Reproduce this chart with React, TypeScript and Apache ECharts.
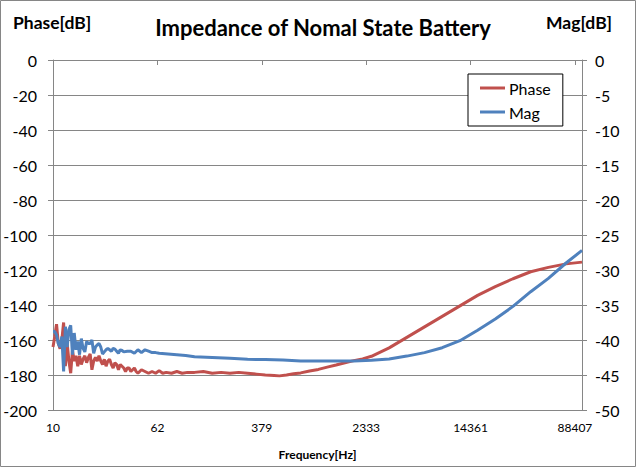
import React, { useEffect, useRef } from "react";
import * as echarts from "echarts";

// x positions are sample indices of the log-spaced frequency sweep (0..299)
const tickIndex = [0, 59, 118, 177, 236, 295];
const tickLabels = ["10", "62", "379", "2333", "14361", "88407"];
const sampleCount = 300;

const phase: [number, number][] = [
  [0, -164], [1, -158], [2, -151], [3, -162], [4, -165], [5, -160], [6, -150], [7, -175],
  [8, -162], [9, -172], [10, -179], [11, -166], [12, -172], [13, -169], [14, -175], [15, -169],
  [16, -174], [17, -171], [18, -169], [19, -173], [20, -170], [21, -168], [22, -177], [23, -172],
  [24, -170], [25, -172], [26, -169], [27, -172], [28, -174], [29, -171], [30, -175], [31, -172],
  [32, -171], [33, -174], [34, -176], [35, -173], [36, -174], [37, -177], [38, -174], [39, -175],
  [40, -176], [41, -178], [42, -176], [43, -176], [44, -178], [45, -177], [46, -176], [47, -178],
  [48, -179], [49, -178], [50, -177], [52, -178], [54, -179], [56, -178], [58, -179], [60, -177.5],
  [62, -179], [64, -178.5], [67, -179], [70, -178], [73, -179], [76, -178.5], [80, -178.5],
  [85, -178], [90, -179], [95, -178.5], [100, -179], [105, -178.5], [110, -179], [115, -179.5],
  [120, -180], [125, -180.3], [128, -180.5], [132, -180], [136, -179.3], [140, -178.8],
  [145, -177.7], [150, -176.8], [155, -175.5], [160, -174.3], [165, -173], [170, -171.8],
  [175, -170.8], [180, -169.3], [190, -164.5], [200, -158.5], [210, -152.5], [220, -146.5],
  [230, -140.5], [240, -134.5], [250, -129.5], [260, -125], [270, -121], [280, -118.5],
  [290, -116.5], [299, -115.5],
];

const mag: [number, number][] = [
  [0, -38.8], [1, -38.8], [2, -39.3], [3, -40.5], [4, -41], [5, -39.5], [6, -44.5], [7, -38.1],
  [8, -41], [9, -38.5], [10, -37.9], [11, -42.1], [12, -39], [13, -41.4], [14, -40.2], [15, -42.1],
  [16, -39.8], [17, -41.2], [18, -41.7], [19, -40.2], [20, -40.5], [21, -40.5], [22, -40],
  [23, -41.9], [24, -41], [25, -40.7], [26, -40.5], [27, -41], [28, -42], [29, -41.7], [30, -41.4],
  [31, -41.2], [32, -41.4], [33, -41.6], [34, -41.2], [35, -41.3], [36, -41.6], [37, -41.9],
  [38, -41.4], [39, -41.5], [40, -41.7], [42, -41.6], [44, -41.6], [46, -41.9], [48, -41.4],
  [50, -41.8], [52, -41.4], [54, -41.6], [56, -41.8], [58, -41.8], [60, -41.9], [65, -42],
  [70, -42.1], [75, -42.2], [80, -42.4], [90, -42.5], [100, -42.6], [110, -42.75], [120, -42.8],
  [130, -42.85], [140, -43], [150, -43], [160, -43], [170, -43], [180, -42.9], [190, -42.7],
  [200, -42.3], [210, -41.8], [220, -41.1], [230, -40.1], [240, -38.6], [250, -37],
  [260, -35.2], [270, -33.1], [280, -31.2], [290, -29], [299, -27.2],
];

const FONT = 'Lato, "Open Sans", sans-serif';
const GRID_GRAY = "#868686";

export default function App() {
  const ref = useRef<HTMLDivElement>(null);
  useEffect(() => {
    document.body.style.margin = "0";
    if (!ref.current) return;
    const chart = echarts.init(ref.current, undefined, { renderer: "svg" });
    chart.setOption({
      animation: false,
      backgroundColor: "#fff",
      textStyle: { fontFamily: FONT },
      title: {
        text: "Impedance of Nomal State Battery",
        left: 318,
        textAlign: "center",
        top: 11,
        textStyle: { fontFamily: FONT, fontSize: 22, fontWeight: "bold", color: "#000" },
      },
      graphic: [
        {
          type: "rect",
          shape: { x: 0.5, y: 0.5, width: 635, height: 466 },
          style: { fill: "none", stroke: GRID_GRAY, lineWidth: 1 },
          silent: true,
        },
        {
          type: "text",
          x: 13,
          y: 13,
          style: { text: "Phase[dB]", fontFamily: FONT, fontSize: 17.5, fontWeight: "bold", fill: "#000" },
        },
        {
          type: "text",
          x: 546,
          y: 13,
          style: { text: "Mag[dB]", fontFamily: FONT, fontSize: 17.5, fontWeight: "bold", fill: "#000" },
        },
      ],
      legend: {
        left: 468,
        top: 74,
        orient: "vertical",
        backgroundColor: "#fff",
        borderColor: "#000",
        borderWidth: 1,
        borderRadius: 0,
        padding: [6, 12, 6, 12],
        itemGap: 8,
        itemWidth: 25,
        itemHeight: 3,
        icon: "rect",
        textStyle: { fontFamily: FONT, fontSize: 16, color: "#000", padding: [0, 0, 0, -1] },
        data: ["Phase", "Mag"],
      },
      grid: { left: 53, right: 54, top: 60, bottom: 57, containLabel: false },
      xAxis: {
        type: "value",
        min: 0,
        max: sampleCount - 1,
        name: "Frequency[Hz]",
        nameLocation: "middle",
        nameGap: 38,
        nameTextStyle: { fontFamily: FONT, fontSize: 12, fontWeight: "bold", color: "#000" },
        axisLine: { show: true, lineStyle: { color: GRID_GRAY, width: 1 } },
        axisTick: { show: true, customValues: tickIndex, length: 5, lineStyle: { color: GRID_GRAY } },
        axisLabel: {
          customValues: tickIndex,
          margin: 11,
          fontFamily: FONT,
          fontSize: 12,
          color: "#000",
          formatter: (v: number) => {
            const i = tickIndex.indexOf(Math.round(v));
            return i >= 0 ? tickLabels[i] : "";
          },
        },
        splitLine: { show: false },
      },
      yAxis: [
        {
          type: "value",
          min: -200,
          max: 0,
          interval: 20,
          position: "left",
          axisLine: { show: true, lineStyle: { color: GRID_GRAY, width: 1 } },
          axisTick: { show: true, length: 5, lineStyle: { color: GRID_GRAY } },
          axisLabel: { margin: 16, fontFamily: FONT, fontSize: 16, color: "#000" },
          splitLine: { show: true, lineStyle: { color: GRID_GRAY, width: 1 } },
        },
        {
          type: "value",
          min: -50,
          max: 0,
          interval: 5,
          position: "right",
          axisLine: { show: true, lineStyle: { color: GRID_GRAY, width: 1 } },
          axisTick: { show: true, length: 5, lineStyle: { color: GRID_GRAY } },
          axisLabel: { margin: 13, fontFamily: FONT, fontSize: 16, color: "#000" },
          splitLine: { show: false },
        },
      ],
      series: [
        {
          name: "Phase",
          type: "line",
          yAxisIndex: 0,
          data: phase,
          symbol: "none",
          smooth: false,
          lineStyle: { color: "#C0504D", width: 3 },
          itemStyle: { color: "#C0504D" },
        },
        {
          name: "Mag",
          type: "line",
          yAxisIndex: 1,
          data: mag,
          symbol: "none",
          smooth: false,
          lineStyle: { color: "#4F81BD", width: 3 },
          itemStyle: { color: "#4F81BD" },
        },
      ],
    });
    return () => chart.dispose();
  }, []);
  return <div ref={ref} style={{ width: 636, height: 467 }} />;
}
